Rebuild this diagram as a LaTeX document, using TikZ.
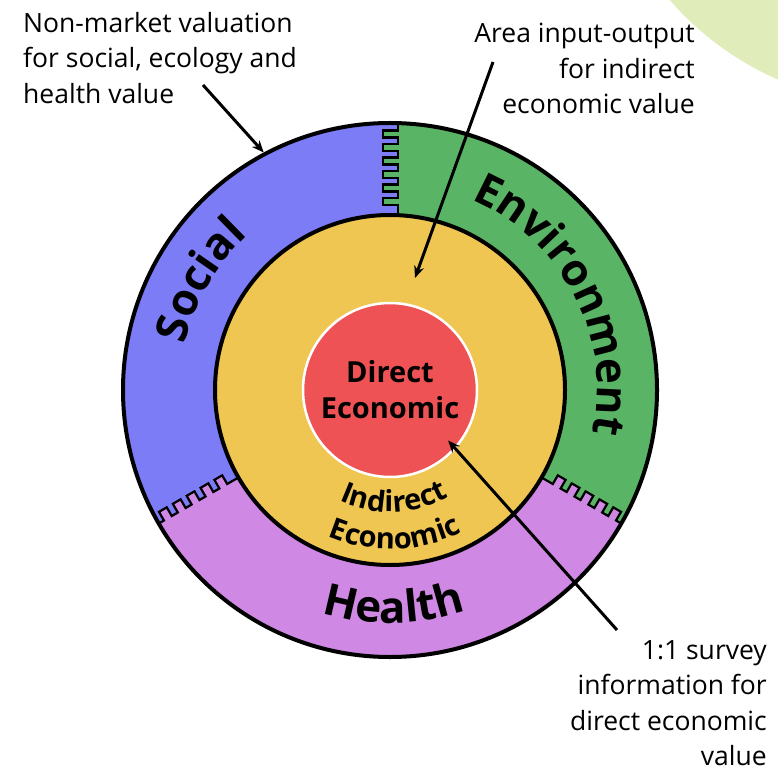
\documentclass[tikz,border=0pt]{standalone}
\usepackage{fontspec}
\setmainfont{Open Sans}
\usetikzlibrary{arrows.meta,calc,decorations.text}

\definecolor{socialblue}{RGB}{124,124,246}
\definecolor{envgreen}{RGB}{90,180,102}
\definecolor{healthpurple}{RGB}{207,136,227}
\definecolor{indirectyellow}{RGB}{240,198,82}
\definecolor{directred}{RGB}{238,82,84}
\definecolor{blobgreen}{RGB}{224,236,186}

\newcommand{\ringfont}{\bfseries\fontsize{44}{44}\selectfont}
\newcommand{\corefont}{\bfseries\fontsize{29}{36}\selectfont}
\newcommand{\notefont}{\fontsize{26.5}{35.5}\selectfont}

\tikzset{
  comb/.style={draw=black, line width=2.2pt, line join=miter},
  pointer/.style={-{Stealth[length=12pt,width=10pt]}, line width=3pt},
  ringtext/.style={decorate, decoration={text along path, text align=center, text={#1}}},
  note/.style={inner sep=0pt, font=\notefont},
}

\begin{document}
\begin{tikzpicture}[x=1pt, y=1pt]
  \useasboundingbox (0,0) rectangle (778,772);
  \coordinate (C) at (390,382);
  \coordinate (T) at (398,382);

  % pale green corner
  \begin{scope}
    \clip (0,0) rectangle (778,772);
    \fill[blobgreen] (900,972) circle (305);
  \end{scope}

  % the three outer sectors
  \fill[socialblue] (T) -- ([shift={(88.3:267)}]C) arc[start angle=88.3, end angle=210, radius=267] -- (C) -- cycle;
  \fill[healthpurple] (C) -- ([shift={(210:267)}]C) arc[start angle=210, end angle=330, radius=267] -- cycle;
  \fill[envgreen] (C) -- ([shift={(330:267)}]C) arc[start angle=330, end angle=448.3, radius=267] -- (T) -- cycle;

  % combs between the sectors
  \begin{scope}[shift={(T)}, rotate=90]
    \foreach \k in {0,...,5} \fill[envgreen] ({185+13.5*\k},0) rectangle ++(7,15);
    \draw[comb] (170,0) \foreach \k in {0,...,5} {-- ({185+13.5*\k},0) -- ++(0,15) -- ++(7,0) -- ++(0,-15)} -- (267,0);
  \end{scope}
  \begin{scope}[shift={(C)}, rotate=210]
    \foreach \k in {0,...,4} \fill[healthpurple] ({188+16*\k},0) rectangle ++(9,-10);
    \draw[comb] (170,0) \foreach \k in {0,...,4} {-- ({188+16*\k},0) -- ++(0,-10) -- ++(9,0) -- ++(0,10)} -- (267,0);
  \end{scope}
  \begin{scope}[shift={(C)}, rotate=330]
    \foreach \k in {0,...,4} \fill[healthpurple] ({188+16*\k},0) rectangle ++(9,10);
    \draw[comb] (170,0) \foreach \k in {0,...,4} {-- ({188+16*\k},0) -- ++(0,10) -- ++(9,0) -- ++(0,-10)} -- (267,0);
  \end{scope}

  % rings
  \node[circle, draw, line width=4pt, minimum size=534pt] (ring) at (C) {};
  \node[circle, fill=indirectyellow, draw, line width=4pt, minimum size=350pt] (indirect) at (C) {};
  \node[circle, fill=directred, draw=white, line width=2.5pt, minimum size=174pt,
        align=center, font=\corefont] (direct) at (C) {Direct\\Economic};

  % curved labels
  \path[ringtext={|\ringfont|Social}] ([shift={(200:210)}]C) arc[start angle=200, end angle=100, radius=210];
  \path[ringtext={|\ringfont|Environment}] ([shift={(80:207)}]C) arc[start angle=80, end angle=-25, radius=207];
  \path[ringtext={|\ringfont|Health}] ([shift={(225:233)}]C) arc[start angle=225, end angle=317, radius=233];
  \path[ringtext={|\corefont|Indirect}] ([shift={(227:122)}]C) arc[start angle=227, end angle=317, radius=122];
  \path[ringtext={|\corefont|Economic}] ([shift={(227:159)}]C) arc[start angle=227, end angle=317, radius=159];

  % notes
  \node[note, anchor=north west, align=left] (nonmarket) at (23,760) {Non-market valuation\\for social, ecology and\\health value};
  \node[note, anchor=north east, align=right] (inputoutput) at (695,749) {Area input-output\\for indirect\\economic value};
  \node[note, anchor=north east, align=right] (survey) at (767,132) {1:1 survey\\information for\\direct economic\\value};

  \coordinate (nonmarket tail) at (203,687);
  \coordinate (inputoutput tail) at (493,710);
  \coordinate (inputoutput tip) at (415,494);
  \coordinate (survey tail) at (617,142);
  \coordinate (survey tip) at ([shift={(-41:77)}]C);

  \draw[pointer] (nonmarket tail) -- (ring.118);
  \draw[pointer] (inputoutput tail) -- (inputoutput tip);
  \draw[pointer] (survey tail) -- (survey tip);
\end{tikzpicture}
\end{document}
